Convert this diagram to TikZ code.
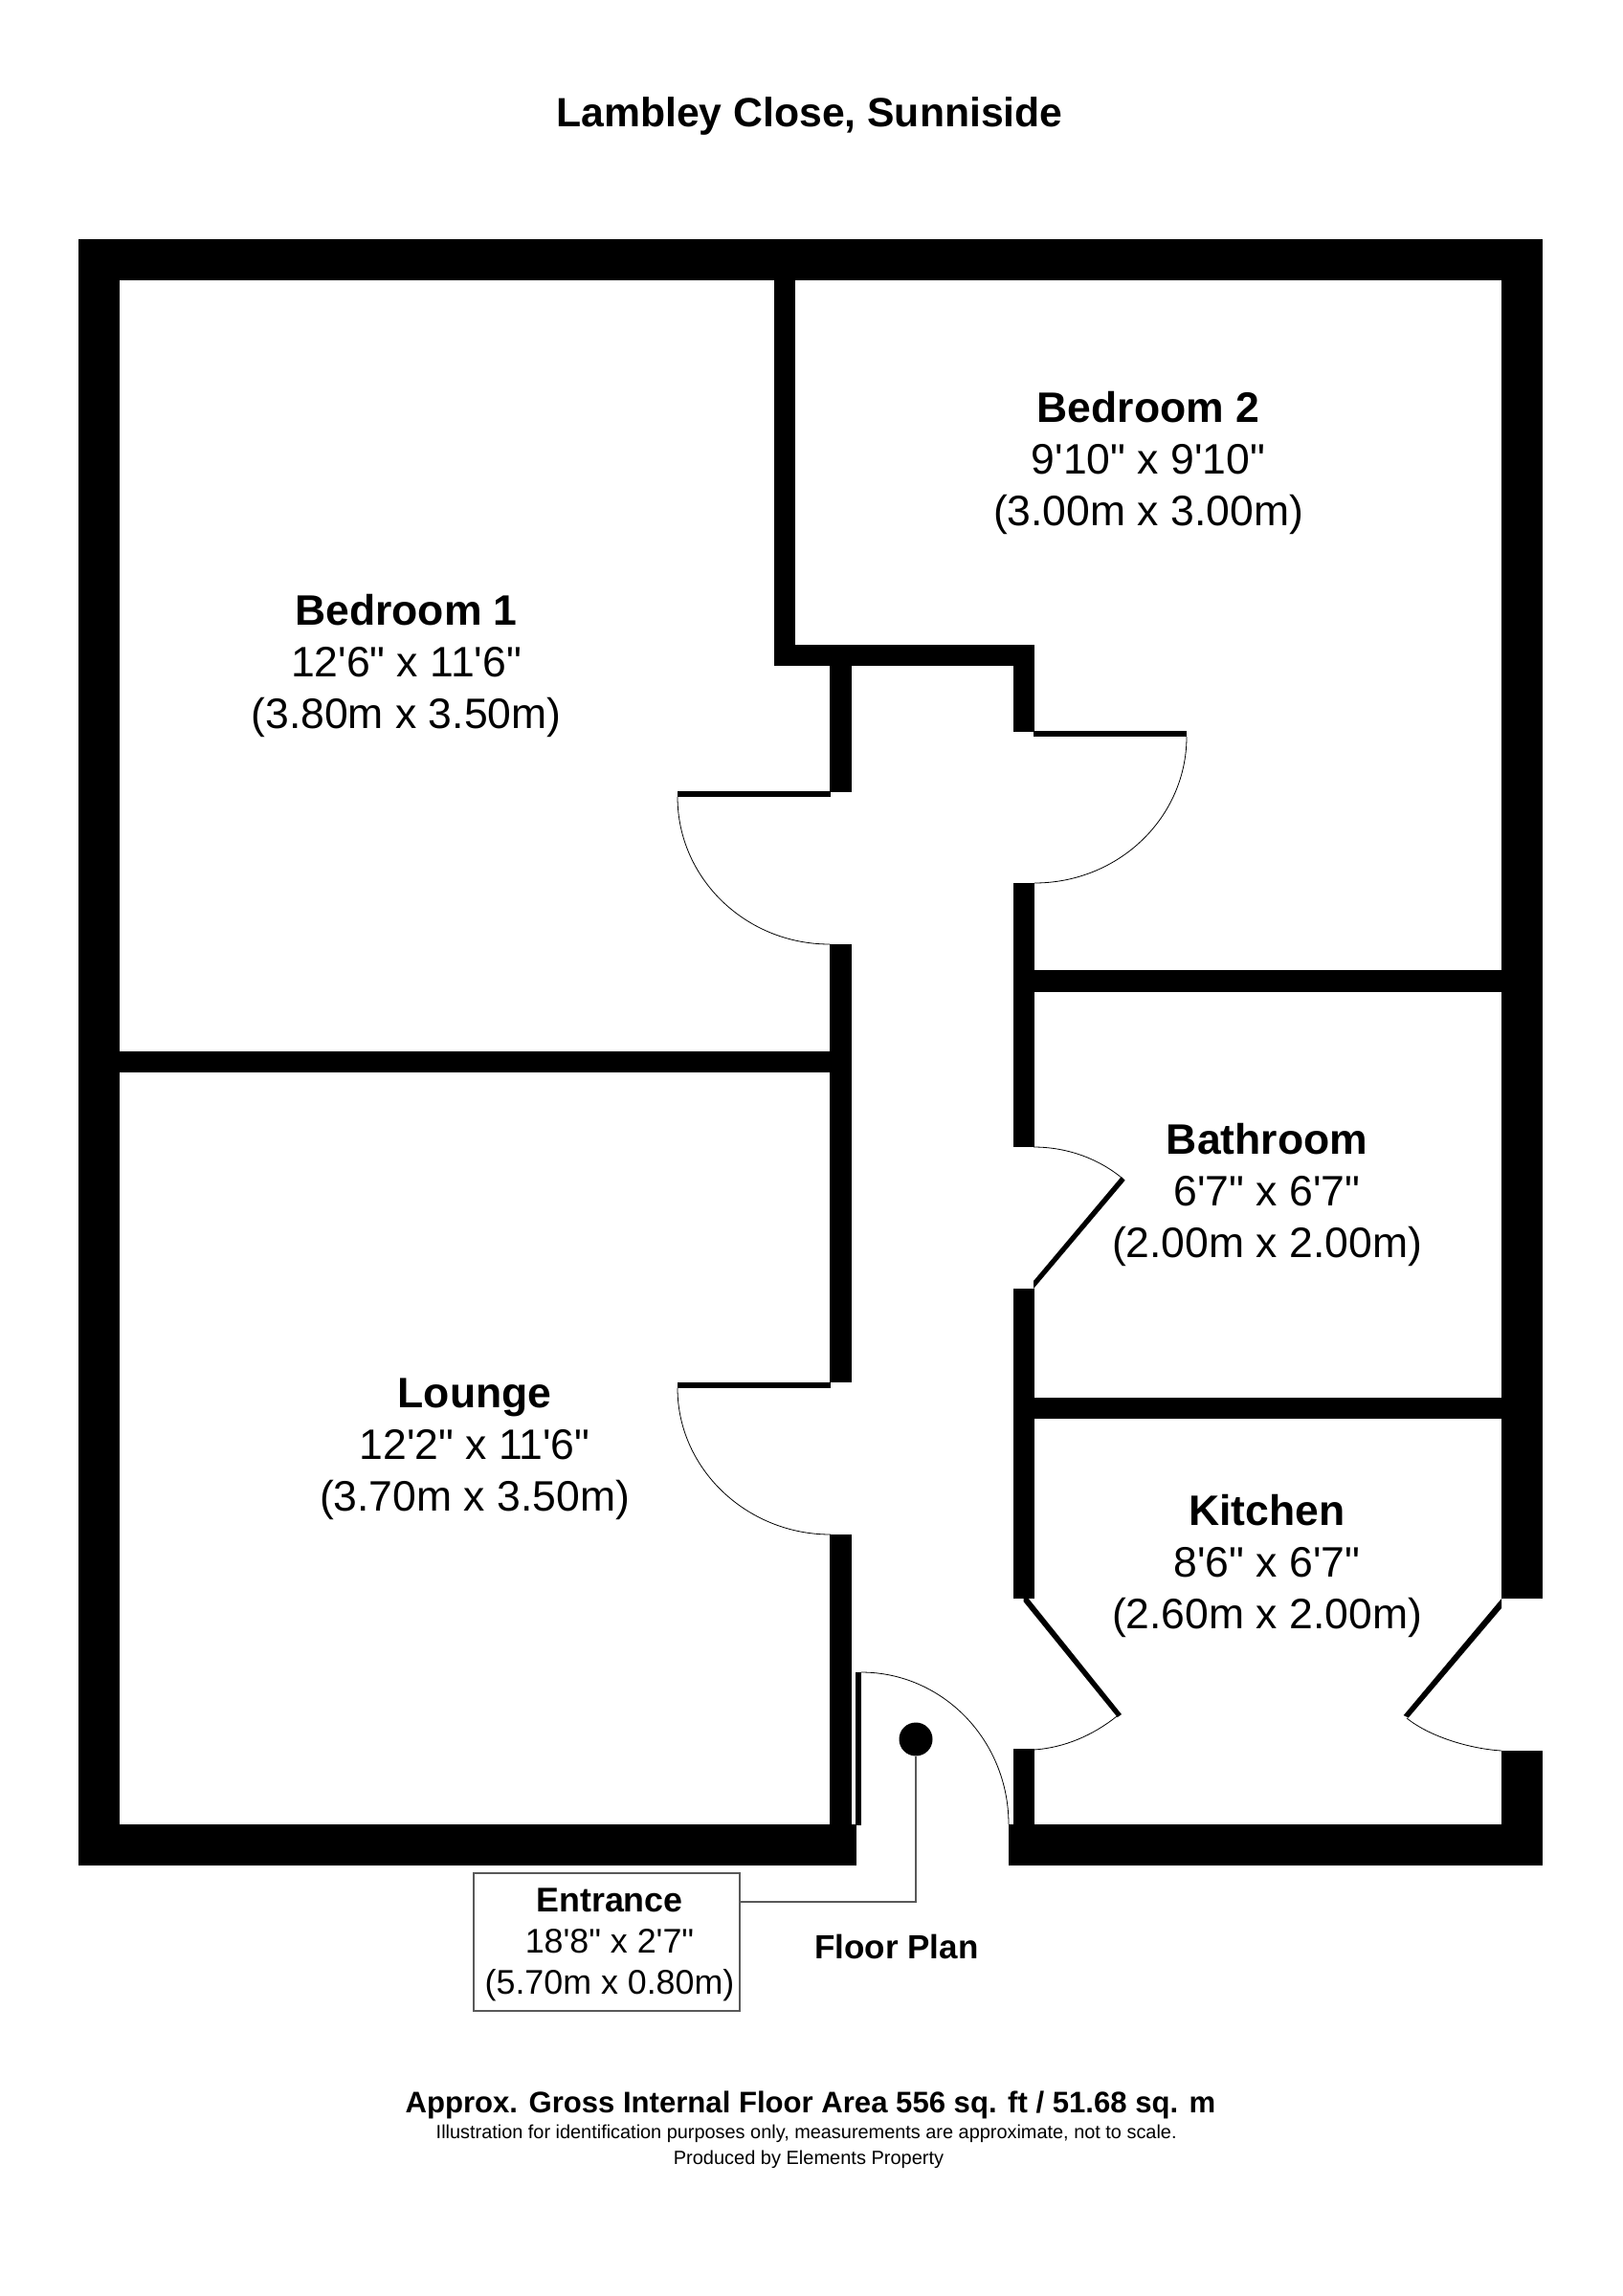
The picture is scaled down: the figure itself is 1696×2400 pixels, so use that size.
\documentclass[tikz,border=0pt]{standalone}
\usepackage{fontspec}
\newfontfamily\planfont{Liberation Sans}
\tikzset{
  wall/.style={fill=black,draw=none},
  leaf/.style={fill=black,draw=none},
  swing/.style={draw=black,line width=0.8pt},
  leader/.style={draw=black!65,line width=1.1pt},
  room/.style={anchor=base,inner sep=0pt,align=center,font=\planfont\fontsize{44.5}{53.6}\selectfont},
  plainline/.style={anchor=base,inner sep=0pt,font=\planfont\bfseries\fontsize{#1}{#1}\selectfont},
  smallline/.style={anchor=base,inner sep=0pt,font=\planfont\fontsize{#1}{#1}\selectfont}
}
\begin{document}
\begin{tikzpicture}[x=1pt,y=-1pt]
\useasboundingbox (0,0) rectangle (1696,2400);
\fill[white] (0,0) rectangle (1696,2400);
% outer walls
\fill[wall] (82,250) rectangle (125,1950);
\fill[wall] (82,250) rectangle (1612,293);
\fill[wall] (1569,250) rectangle (1612,1670.5);
\fill[wall] (1569,1830) rectangle (1612,1950);
\fill[wall] (82,1907) rectangle (895,1950);
\fill[wall] (1054,1907) rectangle (1612,1950);
% inner walls
\fill[wall] (125,1099) rectangle (867,1121);
\fill[wall] (809,293) rectangle (831,696);
\fill[wall] (809,674) rectangle (1081,696);
\fill[wall] (867,696) rectangle (889.5,828);
\fill[wall] (867,987) rectangle (889.5,1445);
\fill[wall] (867,1604) rectangle (889.5,1907);
\fill[wall] (1059,674) rectangle (1081,765);
\fill[wall] (1059,923) rectangle (1081,1199);
\fill[wall] (1059,1347) rectangle (1081,1670.5);
\fill[wall] (1059,1828) rectangle (1081,1907);
\fill[wall] (1081,1014) rectangle (1569,1036.5);
\fill[wall] (1081,1461) rectangle (1569,1482.5);
% door leaves
\fill[leaf] (708,827) rectangle (868,833);
\fill[leaf] (1080,764) rectangle (1240,770);
\fill[leaf] (708,1444.5) rectangle (868,1451);
\fill[leaf] (894,1748) rectangle (900,1907.5);
\fill[leaf] (1080,1339) -- (1171.7,1230) -- (1175.7,1233.7) -- (1080,1347) -- cycle;
\fill[leaf] (1069.5,1670.5) -- (1069.5,1674) -- (1167.7,1795) -- (1172,1792) -- (1074.4,1670.5) -- cycle;
\fill[leaf] (1569,1671) -- (1466.7,1793) -- (1471.7,1795.6) -- (1569,1681) -- cycle;
% door swings
\draw[swing] (708,833) .. controls (708,918) and (779,987) .. (867,987);
\draw[swing] (1240,770) .. controls (1240,854.5) and (1169,923) .. (1081,923);
\draw[swing] (708,1451) .. controls (708,1535) and (780,1604) .. (868,1604);
\draw[swing] (900,1748) .. controls (985,1748) and (1054,1819) .. (1054,1907);
\draw[swing] (1080,1199) .. controls (1113.6,1199) and (1146,1210) .. (1172,1231);
\draw[swing] (1080,1829) .. controls (1112,1827) and (1142,1814) .. (1167,1794);
\draw[swing] (1569,1830) .. controls (1537,1828) and (1495,1816) .. (1470,1796);
% room labels (anchor on the last line's baseline)
\node[room] (bed2) at (1200,549) {\textbf{Bedroom 2}\\9'10" x 9'10"\\(3.00m x 3.00m)};
\node[room] (bed1) at (424.5,761) {\textbf{Bedroom 1}\\12'6" x 11'6"\\(3.80m x 3.50m)};
\node[room] (bath) at (1324,1314) {\textbf{Bathroom}\\6'7" x 6'7"\\(2.00m x 2.00m)};
\node[room] (lounge) at (496,1579) {\textbf{Lounge}\\12'2" x 11'6"\\(3.70m x 3.50m)};
\node[room] (kitchen) at (1324,1702) {\textbf{Kitchen}\\8'6" x 6'7"\\(2.60m x 2.00m)};
% entrance
\node[circle,fill=black,inner sep=0pt,minimum size=35pt] (spot) at (957,1818) {};
\node[draw=black!65,line width=1.1pt,fill=white,inner sep=0pt,minimum width=278pt,minimum height=144pt] (entrance) at (634,2030) {};
\node[anchor=base,inner sep=0pt,align=center,font=\planfont\fontsize{35.8}{43}\selectfont] (entrancetext) at (637,2084.5) {\textbf{Entrance}\\18'8" x 2'7"\\(5.70m x 0.80m)};
\coordinate (elbow) at (957,1988);
\draw[leader] (entrance.east |- elbow) -- (elbow) -- (spot.south);
% text
\node[plainline=42.7] (title) at (846,133) {Lambley Close, Sunniside};
\node[plainline=35] (floorplan) at (937,2047) {Floor Plan};
\node[plainline=31.1] (area) at (847,2208) {Approx. Gross Internal Floor Area 556 sq. ft / 51.68 sq. m};
\node[smallline=19.9] (note) at (842.7,2235) {Illustration for identification purposes only, measurements are approximate, not to scale.};
\node[smallline=20] (credit) at (845,2262) {Produced by Elements Property};
\end{tikzpicture}
\end{document}
